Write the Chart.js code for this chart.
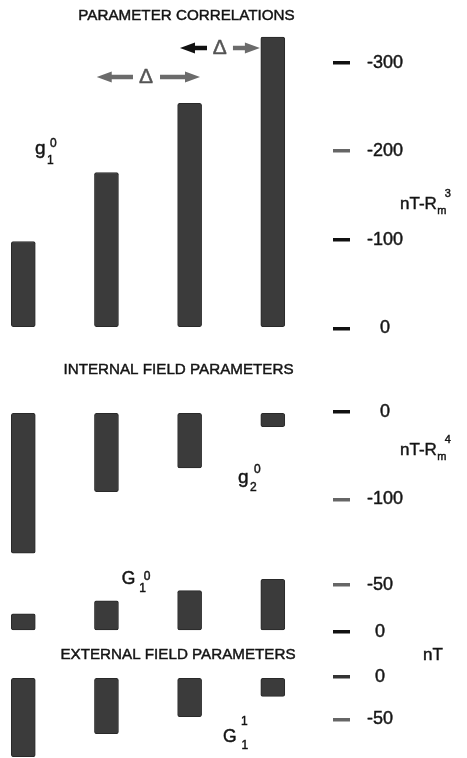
<!DOCTYPE html>
<html>
<head>
<meta charset="utf-8">
<script src="https://cdn.jsdelivr.net/npm/chart.js@4/dist/chart.umd.min.js"></script>
<style>
  html, body { margin: 0; padding: 0; background: #fff; width: 467px; height: 758px; overflow: hidden; }
  canvas.panel { position: absolute; left: 0; top: 0; }
</style>
</head>
<body>
<canvas id="c1" class="panel" width="467" height="758"></canvas>
<canvas id="c2" class="panel" width="467" height="758"></canvas>
<canvas id="c3" class="panel" width="467" height="758"></canvas>
<canvas id="c4" class="panel" width="467" height="758"></canvas>
<script>
// Column positions (one per fit solution)
const columns = [1, 2, 3, 4];

// Parameter values per column
const g10Values = [-98, -176, -254, -329];   // nT-Rm^3
const g20Values = [-161, -91, -64, -17];     // nT-Rm^4
const G10Values = [-19, -33, -44, -56];      // nT
const G11Values = [-94, -67, -47, -23];      // nT

// Tick values shown on each axis
const g10Ticks = [0, -100, -200, -300];
const g20Ticks = [0, -100];
const G10Ticks = [0, -50];
const G11Ticks = [0, -50];

const FONT = "'Liberation Sans', Arial, Helvetica, sans-serif";
const INK = '#141414';
const PAGE_H = 758;

// Vertical placement of each panel: pixel of zero, pixels per unit, range
const panelLayout = [
  { canvas: 'c1', values: g10Values, ticks: g10Ticks, zeroY: 328.3, unitPx: 0.8853, min: -350, max: 10, reverse: true,
    tickColors: { '0': '#111', '-100': '#111', '-200': '#666', '-300': '#111' } },
  { canvas: 'c2', values: g20Values, ticks: g20Ticks, zeroY: 411.7, unitPx: 0.878, min: -170, max: 10, reverse: false,
    tickColors: { '0': '#111', '-100': '#666' } },
  { canvas: 'c3', values: G10Values, ticks: G10Ticks, zeroY: 631.7, unitPx: 0.934, min: -65, max: 4, reverse: true,
    tickColors: { '0': '#111', '-50': '#666' } },
  { canvas: 'c4', values: G11Values, ticks: G11Ticks, zeroY: 676.7, unitPx: 0.852, min: -95, max: 4, reverse: false,
    tickColors: { '0': '#333', '-50': '#666' } }
];

// Filled text with a hairline stroke so it reads as heavy as the tick labels
function text(ctx, str, x, y, size, align, baseline, color) {
  ctx.font = size + 'px ' + FONT;
  ctx.textAlign = align || 'left';
  ctx.textBaseline = baseline || 'alphabetic';
  ctx.fillStyle = color || INK;
  ctx.strokeStyle = color || INK;
  ctx.lineWidth = 0.45;
  ctx.fillText(str, x, y);
  ctx.strokeText(str, x, y);
}

// Symbol with subscript and superscript, e.g. g with 1 below and 0 above
function symbol(ctx, s) {
  text(ctx, s.base, s.x, s.y, s.size);
  ctx.font = s.size + 'px ' + FONT;
  const w = ctx.measureText(s.base).width;
  text(ctx, s.sub, s.x + w + s.subDx, s.y + s.subDy, s.small);
  text(ctx, s.sup, s.x + w + s.supDx, s.y + s.supDy, s.small);
}

// Unit label like nT-Rm^3
function unit(ctx, u) {
  text(ctx, u.base, u.x, u.y, 17);
  ctx.font = '17px ' + FONT;
  const w = ctx.measureText(u.base).width;
  if (u.sub) text(ctx, u.sub, u.x + w + 0.5, u.y + 5, 11);
  if (u.sup) text(ctx, u.sup, u.x + w + 8, u.y - 12, 11);
}

// Horizontal block arrow; tip and tail in pixels
function arrow(ctx, tipX, tailX, y, color) {
  const dir = tipX < tailX ? -1 : 1;
  const headLen = 15, half = 5.5, shaft = 2.2;
  const baseX = tipX - dir * headLen;
  ctx.fillStyle = color;
  ctx.beginPath();
  ctx.moveTo(tailX, y - shaft);
  ctx.lineTo(baseX, y - shaft);
  ctx.lineTo(baseX, y - half);
  ctx.lineTo(tipX, y);
  ctx.lineTo(baseX, y + half);
  ctx.lineTo(baseX, y + shaft);
  ctx.lineTo(tailX, y + shaft);
  ctx.closePath();
  ctx.fill();
}

// Text and annotations drawn over each panel
const decorations = {
  c1: (chart, ctx) => {
    text(ctx, 'PARAMETER CORRELATIONS', 186.5, 16, 15.2, 'center', 'middle');
    const x = chart.scales.x;
    // spacing arrows between neighbouring columns
    arrow(ctx, x.getPixelForValue(1.883), x.getPixelForValue(2.319), 77, '#6b6b6b');
    text(ctx, 'Δ', x.getPixelForValue(2.475), 77, 21, 'center', 'middle', '#555');
    arrow(ctx, x.getPixelForValue(3.125), x.getPixelForValue(2.644), 77, '#6b6b6b');
    arrow(ctx, x.getPixelForValue(2.884), x.getPixelForValue(3.209), 48, '#111');
    text(ctx, 'Δ', x.getPixelForValue(3.361), 48, 21, 'center', 'middle', '#555');
    arrow(ctx, x.getPixelForValue(3.845), x.getPixelForValue(3.521), 48, '#6b6b6b');
    symbol(ctx, { base: 'g', sub: '1', sup: '0', x: 35, y: 154, size: 19, small: 12, subDx: 1.5, subDy: 10, supDx: 4.5, supDy: -7 });
    unit(ctx, { base: 'nT-R', sub: 'm', sup: '3', x: 400, y: 209 });
  },
  c2: (chart, ctx) => {
    text(ctx, 'INTERNAL FIELD PARAMETERS', 178.5, 370, 15.2, 'center', 'middle');
    symbol(ctx, { base: 'g', sub: '2', sup: '0', x: 238, y: 483, size: 19, small: 12, subDx: 1.5, subDy: 8, supDx: 5.5, supDy: -10 });
    unit(ctx, { base: 'nT-R', sub: 'm', sup: '4', x: 400, y: 455 });
  },
  c3: (chart, ctx) => {
    symbol(ctx, { base: 'G', sub: '1', sup: '0', x: 121.7, y: 584.3, size: 17.5, small: 12, subDx: 4, subDy: 8, supDx: 8.5, supDy: -4.3 });
    text(ctx, 'EXTERNAL FIELD PARAMETERS', 178, 655, 15.2, 'center', 'middle');
    text(ctx, 'nT', 423, 660, 17);
  },
  c4: (chart, ctx) => {
    symbol(ctx, { base: 'G', sub: '1', sup: '1', x: 223, y: 741.7, size: 17.5, small: 12, subDx: 5, subDy: 7.5, supDx: 4.4, supDy: -16.7 });
  }
};

panelLayout.forEach(p => {
  const top = p.reverse ? p.zeroY + p.min * p.unitPx : p.zeroY - p.max * p.unitPx;
  const bottom = p.reverse ? p.zeroY + p.max * p.unitPx : p.zeroY - p.min * p.unitPx;
  const points = columns.map((c, i) => ({ x: c, y: p.values[i] }));

  new Chart(document.getElementById(p.canvas), {
    type: 'bar',
    data: {
      datasets: [{
        data: points,
        backgroundColor: '#3b3b3b',
        borderColor: '#292929',
        borderWidth: 1,
        borderSkipped: false,
        borderRadius: 2,
        barThickness: 24,
        clip: false
      }]
    },
    options: {
      responsive: false,
      animation: false,
      devicePixelRatio: 1,
      events: [],
      layout: { padding: { top: top, bottom: PAGE_H - bottom, left: 0, right: 0 } },
      plugins: { legend: { display: false }, tooltip: { enabled: false }, title: { display: false } },
      scales: {
        x: {
          type: 'linear', display: false, offset: false,
          min: 0.72, max: 4.724,
          grid: { offset: false }
        },
        y: {
          type: 'linear', position: 'right',
          min: p.min, max: p.max, reverse: p.reverse, bounds: 'data',
          border: { display: false },
          grid: {
            drawOnChartArea: false, drawTicks: true, tickLength: 17,
            lineWidth: 3.5, tickWidth: 3.5,
            tickColor: ctx => (ctx.tick ? (p.tickColors[String(ctx.tick.value)] || '#111') : '#111')
          },
          ticks: {
            padding: 17, crossAlign: 'center', color: INK,
            textStrokeColor: INK, textStrokeWidth: 0.45,
            font: { family: FONT, size: 18 },
            callback: v => String(v)
          },
          afterBuildTicks: s => { s.ticks = p.ticks.map(v => ({ value: v })); },
          afterFit: s => { s.width = 134; s.paddingTop = 0; s.paddingBottom = 0; }
        }
      }
    },
    plugins: [{
      id: 'panelText',
      afterDraw: chart => { const ctx = chart.ctx; ctx.save(); decorations[p.canvas](chart, ctx); ctx.restore(); }
    }]
  });
});
</script>
</body>
</html>
